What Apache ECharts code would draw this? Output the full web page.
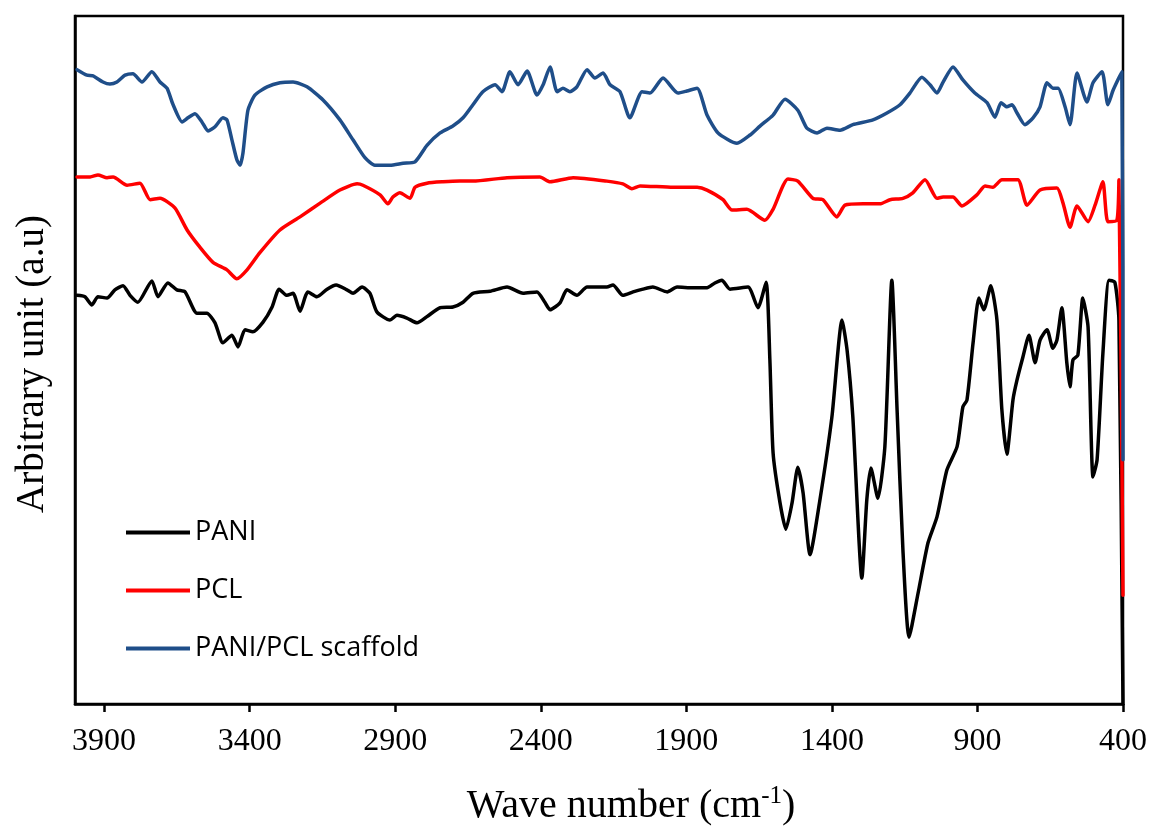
<!DOCTYPE html>
<html>
<head>
<meta charset="utf-8">
<script src="https://cdn.jsdelivr.net/npm/echarts@6/dist/echarts.min.js"></script>
<style>
  html, body {margin: 0; padding: 0; background: #fff;}
  #chart {width: 1152px; height: 827px;}
</style>
</head>
<body>
<div id="chart"></div>
<script>
// FTIR spectra, wave numbers (cm-1), intensity in a.u. (0-100 of plot height)
const xTicks = [3900, 3400, 2900, 2400, 1900, 1400, 900, 400];

const paniWn = [3993, 3966, 3942, 3921, 3890, 3863, 3835, 3811, 3784, 3736, 3715, 3681, 3650, 3622, 3581, 3547, 3519, 3492, 3461, 3440,
  3416, 3389, 3354, 3323, 3299, 3272, 3251, 3227, 3200, 3169, 3134, 3103, 3066, 3045, 3014, 2987, 2963, 2918, 2894, 2860,
  2825, 2791, 2746, 2702, 2667, 2633, 2574, 2516, 2461, 2413, 2386, 2368, 2334, 2310, 2276, 2241, 2173, 2152, 2118, 2083,
  2049, 2015, 1966, 1932, 1877, 1829, 1802, 1778, 1750, 1688, 1654, 1626, 1613, 1602, 1578, 1558, 1537, 1517, 1499, 1475,
  1441, 1400, 1365, 1348, 1328, 1297, 1280, 1266, 1242, 1218, 1194, 1176, 1156, 1135, 1104, 1070, 1039, 1005, 970, 950,
  936, 915, 895, 878, 854, 833, 816, 799, 778, 764, 744, 723, 702, 685, 661, 641, 627, 610, 593, 582,
  572, 555, 538, 520, 503, 489, 469, 448, 428, 414, 400];
const paniVal = [59.4, 59.2, 58.0, 59.2, 59.0, 60.2, 60.8, 59.4, 58.4, 61.5, 59.2, 61.2, 60.2, 59.9, 56.8, 56.8, 55.4, 52.5, 53.6, 51.9,
  54.4, 54.1, 55.5, 57.7, 60.3, 59.4, 59.7, 57.1, 59.9, 59.2, 60.3, 60.9, 60.2, 59.7, 60.6, 59.7, 57.0, 55.8, 56.5, 56.1,
  55.4, 56.3, 57.6, 57.7, 58.4, 59.7, 60.0, 60.6, 59.7, 59.9, 58.4, 57.3, 58.3, 60.2, 59.4, 60.6, 60.6, 60.9, 59.4, 59.9,
  60.3, 60.6, 59.9, 60.6, 60.5, 60.5, 61.2, 61.6, 60.3, 60.6, 57.6, 61.3, 50.0, 36.5, 29.2, 25.4, 29.2, 34.4, 30.7, 21.7,
  29.7, 41.7, 55.8, 51.5, 41.7, 18.3, 29.7, 34.3, 29.9, 37.4, 61.6, 42.7, 22.4, 9.7, 16.1, 23.4, 27.2, 34.0, 37.4, 43.2,
  44.2, 52.5, 59.0, 57.3, 60.8, 55.8, 42.7, 36.3, 44.2, 47.1, 50.4, 53.6, 49.6, 52.9, 54.4, 51.7, 52.9, 57.6, 49.6, 46.1,
  50.0, 50.7, 59.0, 54.8, 33.0, 35.5, 51.0, 61.6, 61.3, 55.8, 0];

const pclWn = [3993, 3948, 3921, 3890, 3869, 3821, 3777, 3742, 3708, 3657, 3615, 3571, 3526, 3478, 3444, 3409, 3365, 3296, 3227, 3158,
  3090, 3031, 3011, 2952, 2925, 2908, 2884, 2849, 2832, 2791, 2736, 2678, 2633, 2516, 2403, 2368, 2289, 2173, 2118, 2087,
  2059, 1946, 1863, 1829, 1774, 1743, 1692, 1630, 1602, 1551, 1517, 1465, 1431, 1383, 1355, 1293, 1235, 1200, 1156, 1122,
  1080, 1039, 1018, 984, 953, 902, 874, 847, 816, 761, 730, 685, 627, 606, 582, 558, 520, 496, 469, 452,
  421, 414, 400];
const pclVal = [76.6, 76.6, 76.9, 76.5, 76.6, 75.4, 75.7, 73.3, 73.5, 72.1, 68.9, 66.4, 64.2, 63.1, 61.8, 63.1, 65.6, 68.9, 70.8, 72.8,
  74.7, 75.6, 75.4, 74.0, 72.7, 73.7, 74.3, 73.5, 75.1, 75.7, 75.9, 76.0, 76.0, 76.5, 76.6, 75.9, 76.5, 76.0, 75.6, 74.9,
  75.3, 75.1, 75.1, 74.7, 73.3, 71.8, 71.9, 70.3, 71.9, 76.3, 76.0, 73.5, 73.3, 70.8, 72.5, 72.7, 72.7, 73.3, 73.5, 74.3,
  76.2, 73.5, 73.7, 73.7, 72.4, 74.0, 75.3, 75.1, 76.2, 76.2, 72.5, 74.7, 75.0, 72.8, 69.3, 72.4, 70.1, 72.5, 75.9, 70.1,
  70.3, 76.2, 15.8];

const scafWn = [3993, 3959, 3938, 3904, 3880, 3856, 3828, 3801, 3770, 3736, 3708, 3684, 3663, 3632, 3612, 3588, 3564, 3543, 3519, 3492,
  3478, 3461, 3444, 3433, 3423, 3406, 3382, 3340, 3296, 3251, 3203, 3148, 3090, 3045, 3004, 2970, 2918, 2873, 2832, 2791,
  2746, 2702, 2667, 2633, 2599, 2557, 2533, 2506, 2478, 2447, 2413, 2392, 2368, 2344, 2324, 2300, 2276, 2241, 2214, 2186,
  2162, 2128, 2094, 2052, 2025, 1980, 1929, 1898, 1863, 1829, 1791, 1726, 1681, 1647, 1602, 1561, 1517, 1486, 1451, 1417,
  1372, 1328, 1259, 1211, 1166, 1132, 1091, 1063, 1039, 1018, 984, 950, 909, 867, 840, 819, 799, 781, 764, 737,
  709, 685, 661, 641, 623, 599, 582, 558, 524, 503, 472, 452, 434, 404, 400];
const scafVal = [92.2, 91.4, 91.3, 90.4, 90.1, 90.4, 91.4, 91.6, 90.4, 91.9, 90.4, 89.5, 87.1, 84.6, 85.2, 85.8, 84.6, 83.3, 83.9, 85.2,
  84.9, 82.0, 79.1, 78.3, 80.1, 86.3, 88.5, 89.7, 90.3, 90.4, 89.7, 87.8, 84.9, 82.0, 79.4, 78.3, 78.3, 78.6, 78.8, 81.2,
  83.0, 84.0, 85.2, 87.1, 89.0, 90.0, 89.0, 91.9, 90.0, 92.0, 88.5, 90.0, 92.6, 89.0, 89.5, 89.0, 89.7, 92.2, 91.0, 91.7,
  90.0, 89.0, 85.2, 89.0, 88.8, 91.0, 88.8, 89.1, 89.5, 85.6, 83.0, 81.5, 82.7, 84.0, 85.6, 87.9, 86.3, 83.7, 83.0, 83.7,
  83.4, 84.2, 84.9, 85.9, 87.1, 88.8, 91.1, 90.0, 88.8, 90.4, 92.6, 90.7, 88.8, 87.4, 85.3, 87.4, 86.8, 87.1, 85.9, 84.2,
  85.2, 86.8, 90.3, 89.5, 89.5, 86.8, 84.2, 91.7, 87.5, 90.3, 91.9, 87.1, 89.2, 91.9, 35.5];

const zip = (xs, ys) => xs.map((x, i) => [x, ys[i]]);

const chart = echarts.init(document.getElementById('chart'), null, {renderer: 'canvas'});

const lineSeries = (name, color, data) => ({
  name: name,
  type: 'line',
  data: data,
  symbol: 'none',
  showSymbol: false,
  smooth: 0.2,
  color: color,
  lineStyle: {color: color, width: 3.5, cap: 'round', join: 'round'},
  animation: false
});

chart.setOption({
  animation: false,
  backgroundColor: '#fff',
  grid: {
    left: 75, right: 29, top: 16, bottom: 123,
    show: true, borderColor: '#000', borderWidth: 2.5, backgroundColor: 'transparent'
  },
  legend: {
    orient: 'vertical',
    left: 121,
    top: 514,
    itemWidth: 64,
    itemHeight: 4,
    itemGap: 31,
    icon: 'rect',
    textStyle: {fontFamily: 'Open Sans', fontSize: 27, color: '#000'},
    data: ['PANI', 'PCL', 'PANI/PCL scaffold']
  },
  xAxis: {
    type: 'value',
    inverse: true,
    min: 400,
    max: 4000,
    axisLine: {show: true, lineStyle: {color: '#000', width: 2.5}},
    axisTick: {show: true, customValues: xTicks, length: 8, lineStyle: {color: '#000', width: 2.5}},
    axisLabel: {
      customValues: xTicks,
      formatter: v => String(v),
      margin: 22,
      fontFamily: 'Liberation Serif',
      fontSize: 32,
      color: '#000'
    },
    splitLine: {show: false}
  },
  yAxis: {
    type: 'value',
    min: 0,
    max: 100,
    axisLine: {show: true, lineStyle: {color: '#000', width: 2.5}},
    axisTick: {show: false},
    axisLabel: {show: false},
    splitLine: {show: false}
  },
  graphic: [
    {
      type: 'text',
      x: 33, y: 364,
      rotation: Math.PI / 2,
      style: {
        text: 'Arbitrary unit (a.u)',
        fontFamily: 'Liberation Serif',
        fontSize: 39,
        fill: '#000',
        align: 'center',
        verticalAlign: 'middle'
      }
    },
    {
      type: 'text',
      x: 631, y: 806,
      style: {
        text: '{a|Wave number (cm}{s|-1}{a|)}',
        align: 'center',
        verticalAlign: 'middle',
        rich: {
          a: {fontFamily: 'Liberation Serif', fontSize: 40, fill: '#000', lineHeight: 44},
          s: {fontFamily: 'Liberation Serif', fontSize: 25, fill: '#000', lineHeight: 44, verticalAlign: 'top', padding: [0, 0, 14, 0]}
        }
      }
    }
  ],
  series: [
    lineSeries('PANI', '#000000', zip(paniWn, paniVal)),
    lineSeries('PCL', '#ff0000', zip(pclWn, pclVal)),
    lineSeries('PANI/PCL scaffold', '#1f4e89', zip(scafWn, scafVal))
  ]
});
</script>
</body>
</html>
